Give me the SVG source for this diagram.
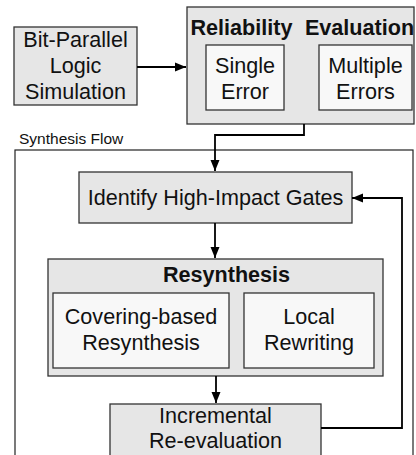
<svg xmlns="http://www.w3.org/2000/svg" width="416" height="455" viewBox="0 0 416 455">
  <defs>
    <style>
      .outer { fill: #e6e6e6; stroke: #333; stroke-width: 1.3; }
      .inner { fill: #f8f8f8; stroke: #333; stroke-width: 1.3; }
      .frame { fill: #ffffff; stroke: #222; stroke-width: 1.2; }
      .lbl { font-family: "Liberation Sans", Arial, sans-serif; font-size: 21.6px; fill: #111; text-anchor: middle; }
      .bold { font-weight: bold; }
      .cap { font-family: "Liberation Sans", Arial, sans-serif; font-size: 15.5px; fill: #111; }
      .wire { fill: none; stroke: #000; stroke-width: 1.8; }
    </style>
    <marker id="head" markerWidth="12" markerHeight="10" refX="11" refY="5" orient="auto" markerUnits="userSpaceOnUse">
      <path d="M0,0.5 L11,5 L0,9.5 Z" fill="#000"/>
    </marker>
  </defs>
  <rect width="416" height="455" fill="#ffffff"/>

  <!-- container for the synthesis stages -->
  <g id="synthesis-flow">
    <text class="cap" x="19" y="144">Synthesis Flow</text>
    <rect class="frame" x="15" y="150" width="398" height="330"/>
  </g>

  <g id="bit-parallel-sim">
    <rect class="outer" x="14" y="27" width="123" height="78"/>
    <text class="lbl" x="75.5" y="47">Bit-Parallel</text>
    <text class="lbl" x="75.5" y="73">Logic</text>
    <text class="lbl" x="75.5" y="99">Simulation</text>
  </g>

  <g id="reliability-eval">
    <rect class="outer" x="187" y="7" width="227" height="117"/>
    <text class="lbl bold" y="35"><tspan x="241.5">Reliability</tspan><tspan x="359.5">Evaluation</tspan></text>
  </g>

  <g id="single-error">
    <rect class="inner" x="206" y="45" width="78" height="65"/>
    <text class="lbl" x="245" y="73">Single</text>
    <text class="lbl" x="245" y="99">Error</text>
  </g>

  <g id="multiple-errors">
    <rect class="inner" x="319" y="45" width="93" height="65"/>
    <text class="lbl" x="365.5" y="73">Multiple</text>
    <text class="lbl" x="365.5" y="99">Errors</text>
  </g>

  <g id="identify-gates">
    <rect class="outer" x="79" y="172" width="273" height="51"/>
    <text class="lbl" x="215.5" y="205">Identify High-Impact Gates</text>
  </g>

  <g id="resynthesis">
    <rect class="outer" x="48" y="259" width="335" height="117"/>
    <text class="lbl bold" x="226.5" y="282">Resynthesis</text>
  </g>

  <g id="covering-resynthesis">
    <rect class="inner" x="53" y="293" width="176" height="75"/>
    <text class="lbl" x="141" y="324">Covering-based</text>
    <text class="lbl" x="141" y="350">Resynthesis</text>
  </g>

  <g id="local-rewriting">
    <rect class="inner" x="244" y="293" width="130" height="75"/>
    <text class="lbl" x="309" y="324">Local</text>
    <text class="lbl" x="309" y="350">Rewriting</text>
  </g>

  <g id="incremental-reeval">
    <rect class="outer" x="110" y="404" width="211" height="70"/>
    <text class="lbl" x="215.5" y="423">Incremental</text>
    <text class="lbl" x="215.5" y="448">Re-evaluation</text>
  </g>

  <g id="connectors">
    <path class="wire" d="M137,67 H186" marker-end="url(#head)"/>
    <path class="wire" d="M304,124 V135 H215 V171" marker-end="url(#head)"/>
    <path class="wire" d="M215,223 V258" marker-end="url(#head)"/>
    <path class="wire" d="M216,376 V403" marker-end="url(#head)"/>
    <path class="wire" d="M321,428 H402 V198 H352" marker-end="url(#head)"/>
  </g>
</svg>
